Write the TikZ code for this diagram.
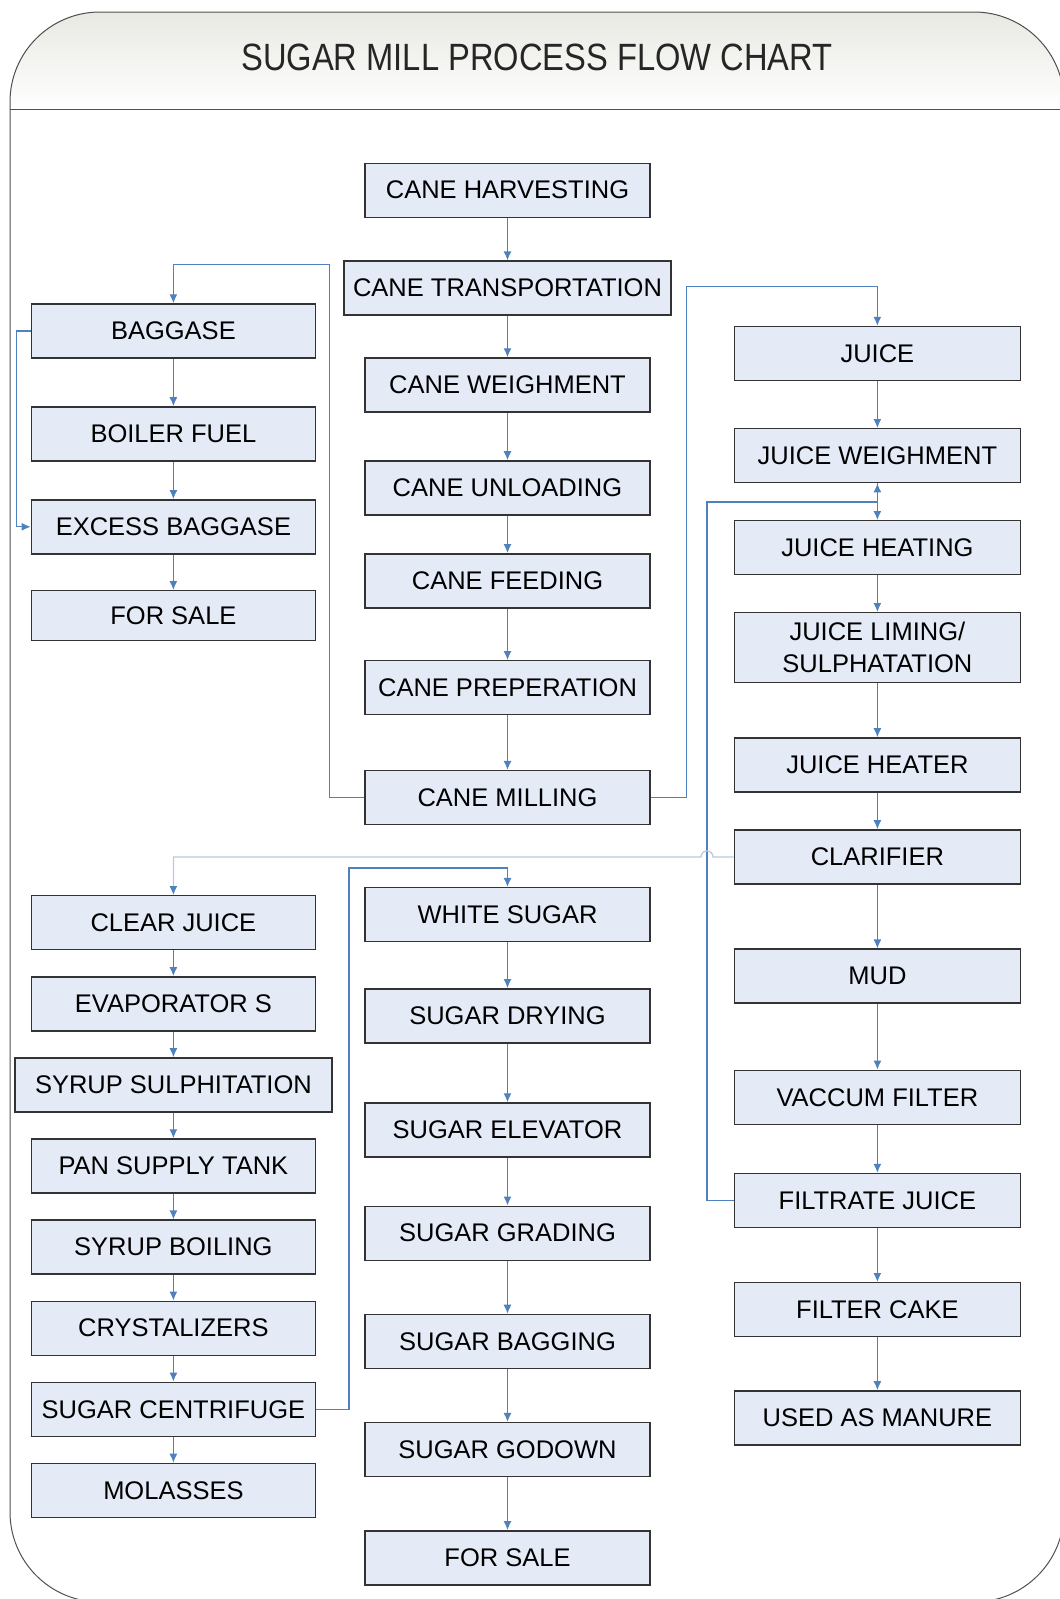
\documentclass[tikz,border=0pt]{standalone}
\usepackage{fontspec}
\setmainfont{Liberation Sans}
\usetikzlibrary{arrows.meta, positioning}
\definecolor{boxfill}{HTML}{E4EBF7}
\definecolor{flowblue}{HTML}{4F81BD}
\definecolor{paleblue}{HTML}{B9C9E0}
\definecolor{framegray}{HTML}{505050}
\definecolor{headtop}{HTML}{E8E9E2}
\tikzstyle{stage} = [rectangle, draw=black!80, line width=1.4pt, fill=boxfill, text centered, align=center, minimum width=285pt, minimum height=54pt, inner sep=3pt, font=\fontsize{25.5}{32}\selectfont]
\tikzstyle{connector} = [draw=flowblue, line width=1.3pt, -{Latex[length=9pt, width=8pt, color=flowblue]}]

\begin{document}
\begin{tikzpicture}[x=1pt, y=1pt, node distance=40pt]
      \useasboundingbox (0,0) rectangle (1060,-1599);
      % Frame and title band
      \begin{scope}
        \clip[rounded corners=90pt] (10,-12) rectangle (1064,-1602);
        \fill[top color=headtop, bottom color=white] (10,-12) rectangle (1064,-109);
      \end{scope}
      \draw[framegray, line width=1pt, rounded corners=90pt] (10,-12) rectangle (1064,-1602);
      \draw[framegray, line width=1pt] (10,-109) -- (1064,-109);
      \node (title) [xscale=0.86, text=black!85, font=\fontsize{38}{40}\selectfont] at (537,-57) {SUGAR MILL PROCESS FLOW CHART};

      % Middle column, cane side
      \node (harvesting) [stage] at (507.5,-190.2) {CANE HARVESTING};
      \node (transport) [stage, minimum width=327pt, below=42.5pt of harvesting] {CANE TRANSPORTATION};
      \node (weighment) [stage, below=41.5pt of transport] {CANE WEIGHMENT};
      \node (unloading) [stage, below=47.5pt of weighment] {CANE UNLOADING};
      \node (feeding) [stage, below=37.5pt of unloading] {CANE FEEDING};
      \node (preparation) [stage, below=51.5pt of feeding] {CANE PREPERATION};
      \node (milling) [stage, below=54.5pt of preparation] {CANE MILLING};

      % Left column, baggase side
      \node (baggase) [stage, minimum width=284pt] at (173.4,-331) {BAGGASE};
      \node (boiler_fuel) [stage, minimum width=284pt, below=47.5pt of baggase] {BOILER FUEL};
      \node (excess_baggase) [stage, minimum width=284pt, below=37.5pt of boiler_fuel] {EXCESS BAGGASE};
      \node (baggase_sale) [stage, minimum width=284pt, minimum height=50pt, below=35.5pt of excess_baggase] {FOR SALE};

      % Right column, juice side
      \node (juice) [stage, minimum width=286pt] at (877.4,-353.5) {JUICE};
      \node (juice_weighment) [stage, minimum width=286pt, below=46.8pt of juice] {JUICE WEIGHMENT};
      \node (juice_heating) [stage, minimum width=286pt, below=36.6pt of juice_weighment] {JUICE HEATING};
      \node (juice_liming) [stage, minimum width=286pt, minimum height=70pt, below=36.6pt of juice_heating] {JUICE LIMING/\\SULPHATATION};
      \node (juice_heater) [stage, minimum width=286pt, below=53.8pt of juice_liming] {JUICE HEATER};
      \node (clarifier) [stage, minimum width=286pt, below=36.6pt of juice_heater] {CLARIFIER};
      \node (mud) [stage, minimum width=286pt, below=63.8pt of clarifier] {MUD};
      \node (vaccum_filter) [stage, minimum width=286pt, below=65.8pt of mud] {VACCUM FILTER};
      \node (filtrate_juice) [stage, minimum width=286pt, below=47.8pt of vaccum_filter] {FILTRATE JUICE};
      \node (filter_cake) [stage, minimum width=286pt, below=53.8pt of filtrate_juice] {FILTER CAKE};
      \node (manure) [stage, minimum width=286pt, below=52.8pt of filter_cake] {USED AS MANURE};

      % Left column, syrup side
      \node (clear_juice) [stage, minimum width=284pt] at (173.4,-922.7) {CLEAR JUICE};
      \node (evaporators) [stage, minimum width=284pt, below=25.7pt of clear_juice] {EVAPORATOR S};
      \node (syrup_sulph) [stage, minimum width=317pt, below=25.7pt of evaporators] {SYRUP SULPHITATION};
      \node (pan_supply) [stage, minimum width=284pt, below=25.7pt of syrup_sulph] {PAN SUPPLY TANK};
      \node (syrup_boiling) [stage, minimum width=284pt, below=25.7pt of pan_supply] {SYRUP BOILING};
      \node (crystalizers) [stage, minimum width=284pt, below=25.7pt of syrup_boiling] {CRYSTALIZERS};
      \node (centrifuge) [stage, minimum width=284pt, below=25.7pt of crystalizers] {SUGAR CENTRIFUGE};
      \node (molasses) [stage, minimum width=284pt, below=25.7pt of centrifuge] {MOLASSES};

      % Middle column, sugar side
      \node (white_sugar) [stage] at (507.5,-914.6) {WHITE SUGAR};
      \node (sugar_drying) [stage, below=45.8pt of white_sugar] {SUGAR DRYING};
      \node (sugar_elevator) [stage, below=58.8pt of sugar_drying] {SUGAR ELEVATOR};
      \node (sugar_grading) [stage, below=47.8pt of sugar_elevator] {SUGAR GRADING};
      \node (sugar_bagging) [stage, below=52.8pt of sugar_grading] {SUGAR BAGGING};
      \node (sugar_godown) [stage, below=52.8pt of sugar_bagging] {SUGAR GODOWN};
      \node (sugar_sale) [stage, below=52.8pt of sugar_godown] {FOR SALE};

      % Bends of the long connectors
      \coordinate (baggase_bus) at (329.5,-264.2);
      \coordinate (juice_bus) at (686.6,-286.7);
      \coordinate (return_bus) at (707,-502);
      \coordinate (sugar_bus) at (349,-868);
      \coordinate (hop) at (return_bus |- clarifier.west);

      % Draw connectors
      \draw [connector] (harvesting) -- (transport);
      \draw [connector] (transport) -- (weighment);
      \draw [connector] (weighment) -- (unloading);
      \draw [connector] (unloading) -- (feeding);
      \draw [connector] (feeding) -- (preparation);
      \draw [connector] (preparation) -- (milling);
      \draw [connector] (milling.west) -| (baggase_bus) -| (baggase.north);
      \draw [connector] (milling.east) -| (juice_bus) -| (juice.north);

      \draw [connector] (baggase) -- (boiler_fuel);
      \draw [connector] (boiler_fuel) -- (excess_baggase);
      \draw [connector] (excess_baggase) -- (baggase_sale);
      \draw [connector] (baggase.west) -- ++(-14.5,0) |- (excess_baggase.west);

      \draw [connector] (juice) -- (juice_weighment);
      \draw [connector] (juice_weighment) -- (juice_heating);
      \draw [connector] (juice_heating) -- (juice_liming);
      \draw [connector] (juice_liming) -- (juice_heater);
      \draw [connector] (juice_heater) -- (clarifier);
      \draw [connector] (clarifier) -- (mud);
      \draw [connector] (mud) -- (vaccum_filter);
      \draw [connector] (vaccum_filter) -- (filtrate_juice);
      \draw [connector] (filtrate_juice) -- (filter_cake);
      \draw [connector] (filter_cake) -- (manure);
      \draw [connector] (filtrate_juice.west) -| (return_bus) -| (juice_weighment.south);
      \draw [connector, draw=paleblue] (clarifier.west) -- ([xshift=6pt]hop) arc[start angle=0, end angle=180, radius=6pt] -| (clear_juice.north);

      \draw [connector] (clear_juice) -- (evaporators);
      \draw [connector] (evaporators) -- (syrup_sulph);
      \draw [connector] (syrup_sulph) -- (pan_supply);
      \draw [connector] (pan_supply) -- (syrup_boiling);
      \draw [connector] (syrup_boiling) -- (crystalizers);
      \draw [connector] (crystalizers) -- (centrifuge);
      \draw [connector] (centrifuge) -- (molasses);
      \draw [connector] (centrifuge.east) -| (sugar_bus) -| (white_sugar.north);

      \draw [connector] (white_sugar) -- (sugar_drying);
      \draw [connector] (sugar_drying) -- (sugar_elevator);
      \draw [connector] (sugar_elevator) -- (sugar_grading);
      \draw [connector] (sugar_grading) -- (sugar_bagging);
      \draw [connector] (sugar_bagging) -- (sugar_godown);
      \draw [connector] (sugar_godown) -- (sugar_sale);
\end{tikzpicture}
\end{document}
